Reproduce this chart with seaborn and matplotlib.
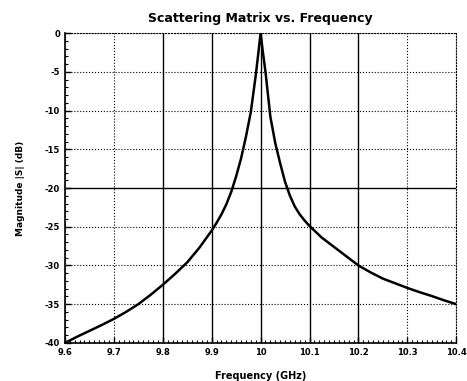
import pandas as pd
import matplotlib.pyplot as plt
import seaborn as sns
from matplotlib.ticker import MultipleLocator

# values
freq = [9.6, 9.625, 9.65, 9.675, 9.7, 9.725, 9.75, 9.775, 9.8, 9.825, 9.85, 9.875,
        9.9, 9.91, 9.92, 9.93, 9.94, 9.95, 9.96, 9.97, 9.98, 9.99, 9.995, 10.0,
        10.005, 10.01, 10.02, 10.03, 10.04, 10.05, 10.06, 10.07, 10.08, 10.09, 10.1,
        10.125, 10.15, 10.175, 10.2, 10.225, 10.25, 10.275, 10.3, 10.325, 10.35,
        10.375, 10.4]
mag_db = [-40.0, -39.2, -38.45, -37.7, -36.9, -36.0, -35.0, -33.8, -32.5, -31.1, -29.6, -27.7,
          -25.5, -24.5, -23.4, -22.1, -20.5, -18.5, -16.2, -13.4, -10.2, -5.5, -2.8, 0.0,
          -2.6, -5.0, -10.8, -14.2, -16.8, -19.2, -21.0, -22.4, -23.4, -24.2, -24.9,
          -26.4, -27.6, -28.8, -30.0, -30.9, -31.7, -32.3, -32.9, -33.45, -33.95,
          -34.5, -35.0]

x_ticks = [9.6, 9.7, 9.8, 9.9, 10.0, 10.1, 10.2, 10.3, 10.4]
x_labels = ['9.6', '9.7', '9.8', '9.9', '10', '10.1', '10.2', '10.3', '10.4']
y_ticks = [0, -5, -10, -15, -20, -25, -30, -35, -40]

df = pd.DataFrame({'freq': freq, 'mag': mag_db})

sns.set_style('white')
plt.rcParams['font.family'] = ['DejaVu Sans']
plt.rcParams['axes.unicode_minus'] = False

fig = plt.figure(figsize=(4.67, 3.81), dpi=100)
ax = fig.add_axes([0.139, 0.1, 0.838, 0.813])

sns.lineplot(data=df, x='freq', y='mag', color='black', linewidth=1.8, ax=ax)

ax.set_xlim(9.6, 10.4)
ax.set_ylim(-40, 0)
ax.set_xticks(x_ticks)
ax.set_xticklabels(x_labels)
ax.set_yticks(y_ticks)
ax.xaxis.set_minor_locator(MultipleLocator(0.01))
ax.yaxis.set_minor_locator(MultipleLocator(1))
ax.tick_params(which='both', bottom=True, left=True, direction='in', colors='black')
ax.tick_params(which='major', length=4, width=1, labelsize=6)
ax.tick_params(which='minor', length=2, width=0.8)
for lab in ax.get_xticklabels() + ax.get_yticklabels():
    lab.set_fontweight('bold')

ax.grid(True, which='major', color='black', linestyle=':', linewidth=0.8)
# some grid lines look solid in the reference
for val, gl in zip(x_ticks, ax.get_xgridlines()):
    if 9.75 < val < 10.25:
        gl.set_linestyle('-')
        gl.set_linewidth(1.0)
for val, gl in zip(y_ticks, ax.get_ygridlines()):
    if val == -20:
        gl.set_linestyle('-')
        gl.set_linewidth(1.0)

for side in ['top', 'right']:
    ax.spines[side].set_linestyle(':')
    ax.spines[side].set_linewidth(0.8)
for side in ['left', 'bottom']:
    ax.spines[side].set_linewidth(1.2)
for sp in ax.spines.values():
    sp.set_color('black')

ax.set_title('Scattering Matrix vs. Frequency', fontsize=9, fontweight='bold', pad=8, color='black')
ax.set_xlabel('Frequency (GHz)', fontsize=7, fontweight='bold', labelpad=10, color='black')
ax.set_ylabel('Magnitude |S| (dB)', fontsize=6.5, fontweight='bold', labelpad=14, color='black')

fig.savefig('out.png', dpi=100)
